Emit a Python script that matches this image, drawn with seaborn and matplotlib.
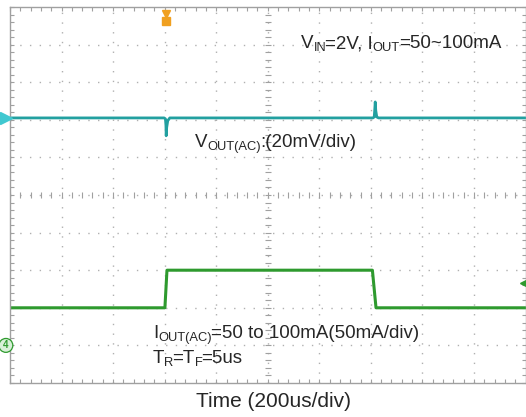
import matplotlib
matplotlib.use('Agg')
import matplotlib.pyplot as plt
import matplotlib.transforms as mtransforms
import seaborn as sns
import pandas as pd
import numpy as np

# scope settings
time_per_div = 200      # us/div
vout_per_div = 20       # mV/div
iout_per_div = 50       # mA/div
vout_ref_div = 7.05     # ch1 ground marker position
iout_ref_div = 1.0      # ch4 ground marker position
trig_time = 606         # us

# channel 1: VOUT (AC), mV
t_vout = [0, 598, 603, 605, 606, 608, 612, 620, 1408, 1413, 1415, 1417, 1419, 1423, 1430, 2000]
vout_mv = [0, 0, -0.5, -4, -9.5, -5, -1.5, 0, 0, 0.5, 4, 8.5, 4, 0.5, 0, 0]

# channel 4: IOUT, mA
t_iout = [0, 601, 609, 1406, 1420, 2000]
iout_ma = [50, 50, 100, 100, 50, 50]

teal = '#22a0a0'
green = '#2e9a2e'

sns.set_style('white')
plt.rcParams['font.family'] = ['Liberation Sans', 'DejaVu Sans']

fig = plt.figure(figsize=(5.26, 4.17), dpi=100)
ax = fig.add_axes([10 / 526, 34 / 417, 515.5 / 526, 376 / 417])

df_v = pd.DataFrame({'x': np.array(t_vout) / time_per_div,
                     'y': vout_ref_div + np.array(vout_mv) / vout_per_div})
df_i = pd.DataFrame({'x': np.array(t_iout) / time_per_div,
                     'y': iout_ref_div + np.array(iout_ma) / iout_per_div})

sns.lineplot(data=df_v, x='x', y='y', ax=ax, color=teal, lw=2.0, estimator=None, sort=False)
sns.lineplot(data=df_i, x='x', y='y', ax=ax, color=green, lw=2.2, estimator=None, sort=False)

ax.set_xlim(0, 10)
ax.set_ylim(0, 10)
ax.set_xlabel('')
ax.set_ylabel('')

# graticule
grid_kw = dict(color='#b0b0b0', lw=1.0, ls=(0, (1, 6)), zorder=0)
for k in range(1, 10):
    ax.axvline(k, **grid_kw)
    ax.axhline(k, **grid_kw)
ax.set_xticks(np.arange(0, 10.01, 0.2), minor=True)
ax.set_yticks(np.arange(0, 10.01, 0.2), minor=True)
ax.set_xticks([])
ax.set_yticks([])
ax.tick_params(which='minor', direction='in', length=3, width=0.8, color='#a0a0a0',
               top=True, right=True, bottom=True, left=True,
               labelbottom=False, labelleft=False)
for s in ax.spines.values():
    s.set_color('#a0a0a0')
    s.set_linewidth(1.0)

# center cross ticks
ticks = np.arange(0, 10.01, 0.2)
ax.plot(ticks, np.full_like(ticks, 5), ls='none', marker='|', ms=5, mew=0.8, color='#a0a0a0', zorder=0)
ax.plot(np.full_like(ticks, 5), ticks, ls='none', marker='_', ms=5, mew=0.8, color='#a0a0a0', zorder=0)

# channel markers
ax.plot([-0.08], [vout_ref_div], marker='>', ms=9, color='#40c8d0', clip_on=False, zorder=5)
ax.text(-0.08, iout_ref_div, '4', color=green, fontsize=7, fontweight='bold', ha='center', va='center',
        clip_on=False, zorder=5,
        bbox=dict(boxstyle='circle,pad=0.2', fc='#d8f0d8', ec=green, lw=0.9))
ax.plot([trig_time / time_per_div], [9.82], marker='v', ms=6, color='#f0a020', clip_on=False, zorder=5)
ax.plot([trig_time / time_per_div], [9.62], marker='s', ms=6, color='#f0a020', clip_on=False, zorder=5)
ax.plot([9.95], [2.66], marker='<', ms=4, color=green, clip_on=False, zorder=5)

# annotations with subscripts, pieces placed one after another
fs, sub_fs, sub_drop = 13.5, 9.3, 3
renderer = fig.canvas.get_renderer()


def rich_text(x, y, parts):
    dx = 0
    for s, sub in parts:
        tr = mtransforms.offset_copy(ax.transData, fig=fig, x=dx,
                                     y=-sub_drop if sub else 0, units='dots')
        t = ax.text(x, y, s, fontsize=sub_fs if sub else fs, va='baseline', transform=tr)
        dx += t.get_window_extent(renderer).width - (1 if sub else 0)


rich_text(5.645, 8.9, [('V', 0), ('IN', 1), ('=2V, I', 0), ('OUT', 1), ('=50~100mA', 0)])
rich_text(3.59, 6.28, [('V', 0), ('OUT(AC)', 1), (':(20mV/div)', 0)])
rich_text(2.77, 1.2, [('I', 0), ('OUT(AC)', 1), ('=50 to 100mA(50mA/div)', 0)])
rich_text(2.77, 0.53, [('T', 0), ('R', 1), ('=T', 0), ('F', 1), ('=5us', 0)])

fig.text(274 / 526, 10 / 417, 'Time (200us/div)', fontsize=15, ha='center', va='baseline')

fig.savefig('out.png', dpi=100)
